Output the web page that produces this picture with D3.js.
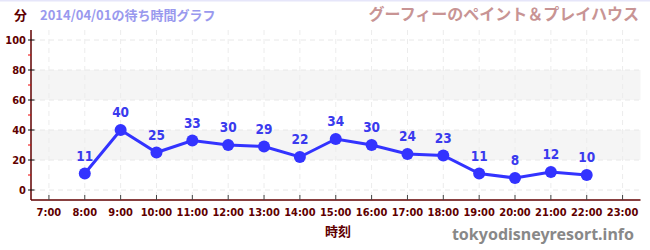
<!DOCTYPE html>
<html>
<head>
<meta charset="utf-8">
<script src="https://cdn.jsdelivr.net/npm/d3@7"></script>
<style>
  body { margin: 0; background: #fff; }
  svg { display: block; }
</style>
</head>
<body>
<div id="chart"></div>
<script>
// data
var hours = [8, 9, 10, 11, 12, 13, 14, 15, 16, 17, 18, 19, 20, 21, 22];
var waits = [11, 40, 25, 33, 30, 29, 22, 34, 30, 24, 23, 11, 8, 12, 10];
var hourTicks = [7, 8, 9, 10, 11, 12, 13, 14, 15, 16, 17, 18, 19, 20, 21, 22, 23];
var yTicks = [0, 20, 40, 60, 80, 100];
var yMinor = [10, 30, 50, 70, 90];
var bands = [[20, 40], [60, 80]];

var width = 650, height = 250;
var axisColor = "#600000";
var lineColor = "#3333ff";
var font = "'DejaVu Sans Condensed', 'DejaVu Sans', sans-serif";
var jpFont = "'Noto Sans CJK JP', sans-serif";

var svg = d3.select("#chart").append("svg")
    .attr("width", width)
    .attr("height", height);

// top border line
svg.append("rect")
    .attr("x", 0).attr("y", 0)
    .attr("width", width).attr("height", 1.5)
    .style("fill", "#e6e6fa");

var x = d3.scaleLinear().domain([6.5, 23.5]).range([31, 640.5]);
var y = d3.scaleLinear().domain([0, 100]).range([190, 40]);
var yTop = 30, yBottom = 200;

// bands
svg.selectAll("rect.band")
    .data(bands)
    .enter()
    .append("rect")
    .attr("class", "band")
    .attr("x", x(6.5))
    .attr("width", x(23.5) - x(6.5))
    .attr("y", function(d) { return y(d[1]); })
    .attr("height", function(d) { return y(d[0]) - y(d[1]); })
    .style("fill", "#f5f5f5");

// grid
svg.selectAll("line.hgrid")
    .data(yTicks)
    .enter()
    .append("line")
    .attr("x1", x(6.5)).attr("x2", x(23.5))
    .attr("y1", function(d) { return y(d); })
    .attr("y2", function(d) { return y(d); })
    .style("stroke", "#e8e8e8")
    .style("stroke-dasharray", "5,4");

svg.selectAll("line.vgrid")
    .data(hourTicks)
    .enter()
    .append("line")
    .attr("x1", function(d) { return x(d); })
    .attr("x2", function(d) { return x(d); })
    .attr("y1", yTop).attr("y2", yBottom)
    .style("stroke", "#ececec")
    .style("stroke-dasharray", "5,4");

// y axis
svg.append("line")
    .attr("x1", 31).attr("x2", 31)
    .attr("y1", yTop).attr("y2", yBottom)
    .style("stroke", axisColor)
    .style("stroke-width", 1.5);

svg.selectAll("line.ytick")
    .data(yTicks)
    .enter()
    .append("line")
    .attr("x1", 28).attr("x2", 34.5)
    .attr("y1", function(d) { return y(d); })
    .attr("y2", function(d) { return y(d); })
    .style("stroke", "#111")
    .style("stroke-width", 1);

svg.selectAll("line.yminor")
    .data(yMinor)
    .enter()
    .append("line")
    .attr("x1", 28).attr("x2", 31)
    .attr("y1", function(d) { return y(d); })
    .attr("y2", function(d) { return y(d); })
    .style("stroke", "#ee0000")
    .style("stroke-width", 1);

svg.selectAll("text.ylab")
    .data(yTicks)
    .enter()
    .append("text")
    .attr("x", 26)
    .attr("y", function(d) { return y(d); })
    .attr("dy", "0.35em")
    .attr("text-anchor", "end")
    .style("font-family", font)
    .style("font-weight", "bold")
    .style("font-size", "11px")
    .style("fill", axisColor)
    .text(function(d) { return d; });

// x axis
svg.append("line")
    .attr("x1", 31).attr("x2", x(23.5))
    .attr("y1", yBottom).attr("y2", yBottom)
    .style("stroke", axisColor)
    .style("stroke-width", 1.5);

svg.selectAll("line.xtick")
    .data(hourTicks)
    .enter()
    .append("line")
    .attr("x1", function(d) { return x(d); })
    .attr("x2", function(d) { return x(d); })
    .attr("y1", 195).attr("y2", 200)
    .style("stroke", "#444")
    .style("stroke-width", 1);

svg.selectAll("text.xlab")
    .data(hourTicks)
    .enter()
    .append("text")
    .attr("x", function(d) { return x(d); })
    .attr("y", 212)
    .attr("dy", "0.35em")
    .attr("text-anchor", "middle")
    .style("font-family", font)
    .style("font-weight", "bold")
    .style("font-size", "11px")
    .style("fill", axisColor)
    .text(function(d) { return d + ":00"; });

// line + points
var pts = hours.map(function(h, i) { return [h, waits[i]]; });

svg.append("path")
    .datum(pts)
    .attr("d", d3.line()
        .x(function(d) { return x(d[0]); })
        .y(function(d) { return y(d[1]); }))
    .style("fill", "none")
    .style("stroke", lineColor)
    .style("stroke-width", 3);

svg.selectAll("circle")
    .data(pts)
    .enter()
    .append("circle")
    .attr("cx", function(d) { return x(d[0]); })
    .attr("cy", function(d) { return y(d[1]); })
    .attr("r", 6)
    .style("fill", lineColor);

svg.selectAll("text.val")
    .data(pts)
    .enter()
    .append("text")
    .attr("x", function(d) { return x(d[0]); })
    .attr("y", function(d) { return y(d[1]) - 13; })
    .attr("text-anchor", "middle")
    .style("font-family", font)
    .style("font-weight", "bold")
    .style("font-size", "13.5px")
    .style("fill", "#3a3aee")
    .text(function(d) { return d[1]; });

// titles
svg.append("text")
    .attr("x", 14).attr("y", 20)
    .style("font-family", jpFont)
    .style("font-weight", "bold")
    .style("font-size", "13px")
    .style("fill", axisColor)
    .text("分");

svg.append("text")
    .attr("x", 40).attr("y", 20)
    .style("font-family", jpFont)
    .style("font-weight", "bold")
    .style("font-size", "13px")
    .style("fill", "#9999ee")
    .text("2014/04/01の待ち時間グラフ");

svg.append("text")
    .attr("x", 639).attr("y", 20)
    .attr("text-anchor", "end")
    .style("font-family", jpFont)
    .style("font-weight", "bold")
    .style("font-size", "16px")
    .style("fill", "#c89494")
    .text("グーフィーのペイント＆プレイハウス");

svg.append("text")
    .attr("x", 338).attr("y", 236)
    .attr("text-anchor", "middle")
    .style("font-family", jpFont)
    .style("font-weight", "bold")
    .style("font-size", "13px")
    .style("fill", axisColor)
    .text("時刻");

svg.append("text")
    .attr("x", 634).attr("y", 240)
    .attr("text-anchor", "end")
    .style("font-family", "'Noto Sans', sans-serif")
    .style("font-weight", "bold")
    .style("font-size", "16px")
    .style("fill", "#888")
    .text("tokyodisneyresort.info");
</script>
</body>
</html>
